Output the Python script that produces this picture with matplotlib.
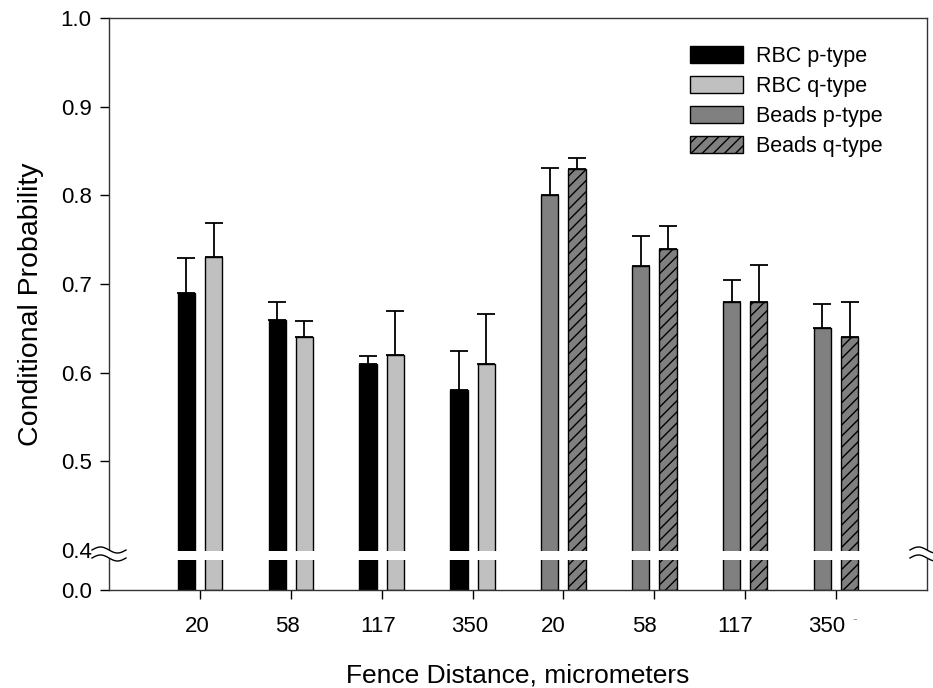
import matplotlib
matplotlib.use("Agg")
import matplotlib.pyplot as plt
import numpy as np
from matplotlib.lines import Line2D
from matplotlib.patches import Polygon
from matplotlib.transforms import IdentityTransform, ScaledTranslation

matplotlib.rcParams.update({
    "font.family": ["Liberation Sans", "DejaVu Sans"],
    "font.size": 15,
    "hatch.linewidth": 1.0,
})

# ── data ──────────────────────────────────────────────────────────────────
distances = ["20", "58", "117", "350"]
tick_labels = distances + distances

rbc_p = [0.69, 0.66, 0.61, 0.58]
rbc_p_err = [0.039, 0.020, 0.009, 0.044]
rbc_q = [0.73, 0.64, 0.62, 0.61]
rbc_q_err = [0.039, 0.018, 0.050, 0.056]
beads_p = [0.80, 0.72, 0.68, 0.65]
beads_p_err = [0.031, 0.034, 0.024, 0.028]
beads_q = [0.83, 0.74, 0.68, 0.64]
beads_q_err = [0.012, 0.026, 0.041, 0.040]

# kırık y ekseni: 0–0.4 dar bir şeride sıkıştırılır
BREAK = 0.4
SQ = 0.045


def fwd(y):
    y = np.asarray(y, dtype=float)
    return np.where(y < BREAK, y * SQ / BREAK, SQ + (y - BREAK))


def inv(u):
    u = np.asarray(u, dtype=float)
    return np.where(u < SQ, u * BREAK / SQ, u - SQ + BREAK)


W, H = 933, 688
fig = plt.figure(figsize=(W / 100, H / 100), dpi=100)
ax = fig.add_axes([109 / W, 1 - 590 / H, (927 - 109) / W, (590 - 18) / H])
ax.set_yscale("function", functions=(fwd, inv))

x_rbc = np.arange(4)
x_beads = np.arange(4, 8)
bw = 0.19
off = 0.15

series = [
    (x_rbc - off, rbc_p, rbc_p_err, "black", None, "RBC p-type"),
    (x_rbc + off, rbc_q, rbc_q_err, "#c0c0c0", None, "RBC q-type"),
    (x_beads - off, beads_p, beads_p_err, "#808080", None, "Beads p-type"),
    (x_beads + off, beads_q, beads_q_err, "#808080", "///", "Beads q-type"),
]
handles = []
for xs, vals, errs, col, hatch, lab in series:
    b = ax.bar(xs, vals, width=bw, color=col, edgecolor="black",
               linewidth=1.0, hatch=hatch, label=lab, zorder=1)
    handles.append(b)
    ax.errorbar(xs, vals, yerr=[np.zeros(len(errs)), errs], fmt="none",
                ecolor="black", elinewidth=1.3, capsize=6.2, capthick=1.3,
                zorder=1.5)

# kırılma noktasında çubukları kesen beyaz boşluk
ax.axhspan(0.30, 0.39, color="white", zorder=2.1, lw=0)

ax.set_xlim(-1, 8)
ax.set_ylim(0, 1.0)
ax.set_xticks(np.arange(8))
ax.set_xticklabels(tick_labels)
ax.set_yticks([0.0, 0.4, 0.5, 0.6, 0.7, 0.8, 0.9, 1.0])
ax.set_yticklabels(["0.0", "0.4", "0.5", "0.6", "0.7", "0.8", "0.9", "1.0"])
ax.tick_params(direction="out", length=6.5, width=1, labelsize=16)
ax.tick_params(axis="y", pad=6)
ax.tick_params(axis="x", pad=12)
for s in ax.spines.values():
    s.set_linewidth(1.0)
    s.set_color("#333333")

# etiketler orijinalde hafifçe sola kaymış
for i, lbl in enumerate(ax.get_xticklabels()):
    dx = -2.2 if i < 4 else -7.0
    lbl.set_transform(lbl.get_transform() + ScaledTranslation(dx / 72, 0, fig.dpi_scale_trans))

ax.set_ylabel("Conditional Probability", fontsize=20.5, labelpad=12)
ax.set_xlabel("Fence Distance, micrometers", fontsize=19, labelpad=19)

ax.legend(handles=handles, loc="upper left", frameon=False,
          bbox_to_anchor=(690 / W, 1 - 46 / H), bbox_transform=fig.transFigure,
          borderpad=0, borderaxespad=0, handlelength=2.45, handleheight=0.8,
          handletextpad=0.6, labelspacing=0.42, fontsize=15.5)

# son etiketten sonraki soluk iz
fig.text(855 / W, 1 - 619 / H, "-", fontsize=10, color="#999999",
         ha="center", va="center")

# her iki dikey eksende dalgalı kırılma işareti
t = np.linspace(-1, 1, 60)
for ax_x in (0.0, 1.0):
    cx = ax.transAxes.transform((ax_x, 0))[0]
    cy = H - 554
    up = cy + 4 - 3 * np.sin(np.pi * t)
    lo = cy - 4 - 3 * np.sin(np.pi * t)
    xs = cx + 17 * t
    poly = Polygon(np.column_stack([np.r_[xs, xs[::-1]], np.r_[up, lo[::-1]]]),
                   closed=True, facecolor="white", edgecolor="none",
                   transform=IdentityTransform(), zorder=5)
    fig.add_artist(poly)
    for yy in (up, lo):
        fig.add_artist(Line2D(xs, yy, color="black", lw=1.0,
                              transform=IdentityTransform(), zorder=6))

fig.savefig("out.png", dpi=100)
